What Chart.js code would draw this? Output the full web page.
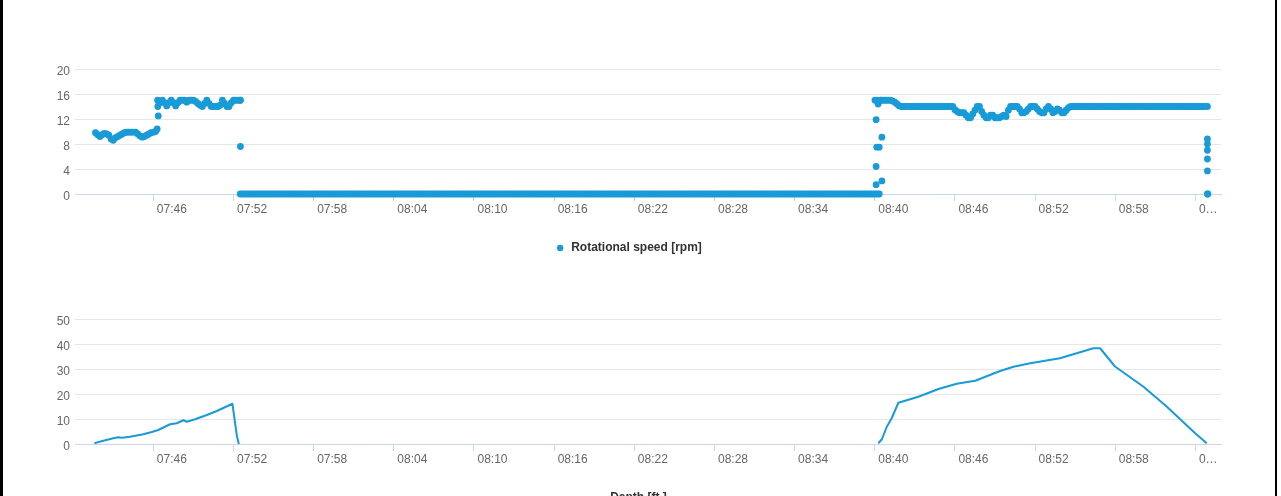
<!DOCTYPE html>
<html>
<head>
<meta charset="utf-8">
<script src="https://cdn.jsdelivr.net/npm/chart.js@4.4.1/dist/chart.umd.min.js"></script>
<style>
html,body{margin:0;padding:0;background:#fff;width:1281px;height:496px;overflow:hidden;position:relative}
.edge{position:absolute;top:0;height:496px;background:#000}
.box{position:absolute;left:3px;width:1272px;height:280px}
</style>
</head>
<body>
<div class="edge" style="left:0;width:3px"></div>
<div class="edge" style="left:1275px;width:2px"></div>
<div class="box" style="top:0"><canvas id="rpmChart"></canvas></div>
<div class="box" style="top:250px"><canvas id="depthChart"></canvas></div>
<script>
// ---------- data ----------
const rpmLabel = 'Rotational speed [rpm]';
const depthLabel = 'Depth [ft.]';

// regularly sampled rotational speed: first sample time and sample step
const rpmStart = '07:41:40';
const rpmStepSeconds = 10;
const rpmValues = [
  // 07:41:40 - 07:46:10
  9.8, 9.5, 9.2, 9.5, 9.7, 9.6, 9.4, 8.8, 8.6, 9.0,
  9.2, 9.4, 9.6, 9.8, 9.9, 9.9, 9.9, 9.9, 9.9, 9.6,
  9.3, 9.1, 9.2, 9.4, 9.6, 9.8, 9.9, 10.0,
  // 07:46:20 - 07:52:30
  14, 14.6, 15, 14.6, 14.1, 14.6, 15, 14.6, 14.1, 14.6,
  15, 15, 15, 14.7, 15, 15, 15, 14.8, 14.5, 14.2,
  14, 14.5, 15, 14.5, 14, 14, 14, 14, 14.2, 15,
  14.5, 14, 14, 14.6, 15, 15, 15, 15,
  // 07:52:40 - 08:40:20
  0,0,0,0,0,0,0,0,0,0, 0,0,0,0,0,0,0,0,0,0,
  0,0,0,0,0,0,0,0,0,0, 0,0,0,0,0,0,0,0,0,0,
  0,0,0,0,0,0,0,0,0,0, 0,0,0,0,0,0,0,0,0,0,
  0,0,0,0,0,0,0,0,0,0, 0,0,0,0,0,0,0,0,0,0,
  0,0,0,0,0,0,0,0,0,0, 0,0,0,0,0,0,0,0,0,0,
  0,0,0,0,0,0,0,0,0,0, 0,0,0,0,0,0,0,0,0,0,
  0,0,0,0,0,0,0,0,0,0, 0,0,0,0,0,0,0,0,0,0,
  0,0,0,0,0,0,0,0,0,0, 0,0,0,0,0,0,0,0,0,0,
  0,0,0,0,0,0,0,0,0,0, 0,0,0,0,0,0,0,0,0,0,
  0,0,0,0,0,0,0,0,0,0, 0,0,0,0,0,0,0,0,0,0,
  0,0,0,0,0,0,0,0,0,0, 0,0,0,0,0,0,0,0,0,0,
  0,0,0,0,0,0,0,0,0,0, 0,0,0,0,0,0,0,0,0,0,
  0,0,0,0,0,0,0,0,0,0, 0,0,0,0,0,0,0,0,0,0,
  0,0,0,0,0,0,0,0,0,0, 0,0,0,0,0,0,0,0,0,0,
  0,0,0,0,0,0,0,
  // 08:40:30 - 08:45:50
  15, 15, 15, 15, 15, 14.9, 14.7, 14.4, 14.1,
  14, 14, 14, 14, 14, 14, 14, 14, 14, 14, 14, 14,
  14, 14, 14, 14, 14, 14, 14, 14, 14, 14, 14, 14,
  // 08:46:00 - 08:54:50
  13.5, 13.2, 13.0, 13.0, 13.0, 12.6, 12.2, 12.2, 12.8, 13.4,
  14.0, 14.0, 13.2, 12.6, 12.2, 12.2, 12.6, 12.6, 12.2, 12.2,
  12.2, 12.4, 12.6, 12.4, 13.4,
  14, 14, 14, 14, 13.6, 13.0, 13.0, 13.2, 13.6, 14,
  14, 14, 13.6, 13.2, 13.0, 13.0, 13.6, 14, 13.6, 13.0,
  13.2, 13.6, 13.4, 13.0, 13.0, 13.4, 13.8, 14, 14,
  // 08:55:00 - 09:04:40
  14, 14, 14, 14, 14, 14, 14, 14, 14, 14,
  14, 14, 14, 14, 14, 14, 14, 14, 14, 14,
  14, 14, 14, 14, 14, 14, 14, 14, 14, 14,
  14, 14, 14, 14, 14, 14, 14, 14, 14, 14,
  14, 14, 14, 14, 14, 14, 14, 14, 14, 14,
  14, 14, 14, 14, 14, 14, 14, 14, 14
];

// irregular rotational speed readings (transitions)
const rpmExtraTimes = [
  '07:46:17', '07:46:22', '07:46:19',
  '07:52:31', '07:52:31', '07:52:30',
  '08:40:01', '08:40:06', '08:40:06', '08:40:06', '08:40:09', '08:40:20',
  '08:40:15', '08:40:12', '08:40:26', '08:40:32', '08:40:32',
  '09:04:54', '09:04:54', '09:04:54', '09:04:54', '09:04:54', '09:04:54', '09:04:54', '09:04:56'
];
const rpmExtraValues = [
  10.4, 12.5, 15,
  15, 7.6, 0,
  15, 11.9, 4.4, 1.5, 7.5, 7.5,
  14.4, 15, 15, 9.1, 2.1,
  14, 8.8, 8.0, 7.0, 5.6, 3.7, 0, 0
];

// depth readings (null = no reading)
const depthTimes = [
  '07:41:35', '07:42:15', '07:43:00', '07:43:23', '07:43:38', '07:44:15', '07:45:15', '07:45:53',
  '07:46:22', '07:47:15', '07:47:45', '07:48:15', '07:48:30', '07:49:07', '07:50:00', '07:50:45',
  '07:51:55', '07:52:15', '07:52:24',
  '08:16:00',
  '08:40:16', '08:40:32', '08:40:54', '08:41:16', '08:41:46', '08:43:16', '08:44:46', '08:46:08',
  '08:47:31', '08:49:23', '08:50:23', '08:51:38', '08:53:52', '08:55:07', '08:56:22', '08:56:52',
  '08:57:59', '09:00:07', '09:01:52', '09:03:59', '09:04:51'
];
const depthValues = [
  0.3, 1.3, 2.3, 2.7, 2.5, 2.9, 3.9, 4.8,
  5.6, 7.9, 8.3, 9.5, 8.9, 9.9, 11.6, 13.2,
  16.1, 3.2, 0,
  null,
  0.3, 1.9, 6.9, 10.3, 16.5, 18.9, 22, 24.1,
  25.3, 29.2, 30.9, 32.3, 34.3, 36.3, 38.3, 38.3,
  31.0, 22.9, 14.9, 4.3, 0.3
];

// axes
const xRange = ['07:40:08', '09:05:55'];
const xTickTimes = ['07:46', '07:52', '07:58', '08:04', '08:10', '08:16', '08:22', '08:28', '08:34', '08:40', '08:46', '08:52', '08:58', '09:04'];
const xTickLabels = ['07:46', '07:52', '07:58', '08:04', '08:10', '08:16', '08:22', '08:28', '08:34', '08:40', '08:46', '08:52', '08:58', '0…'];
const rpmAxis = { max: 20, step: 4 };
const depthAxis = { max: 50, step: 10 };

// ---------- helpers ----------
const SERIES_COLOR = '#189bd7';
function toMin(s) {
  const p = s.split(':').map(Number);
  return p[0] * 60 + p[1] + (p[2] || 0) / 60;
}
const rpmStartMin = toMin(rpmStart);
const rpmPoints = rpmValues.map((v, i) => ({ x: rpmStartMin + i * rpmStepSeconds / 60, y: v }));
const rpmExtraPoints = rpmExtraTimes.map((t, i) => ({ x: toMin(t), y: rpmExtraValues[i] }));
const depthPoints = depthTimes.map((t, i) => ({ x: toMin(t), y: depthValues[i] }));

Chart.defaults.font.family = "'Liberation Sans', Arial, Helvetica, sans-serif";
Chart.defaults.font.size = 12;
Chart.defaults.color = '#666666';

function makeOptions(axis, legendLabels) {
  return {
    responsive: true,
    maintainAspectRatio: false,
    animation: false,
    layout: { padding: { left: 33, right: 54, top: 69, bottom: 16 } },
    plugins: {
      tooltip: { enabled: false },
      legend: {
        position: 'bottom',
        labels: Object.assign({
          usePointStyle: true,
          padding: 11,
          color: '#333333',
          font: { size: 12, weight: 'bold' },
          filter: item => item.datasetIndex === 0
        }, legendLabels)
      }
    },
    scales: {
      x: {
        type: 'linear',
        min: toMin(xRange[0]),
        max: toMin(xRange[1]),
        afterBuildTicks: s => { s.ticks = xTickTimes.map(t => ({ value: toMin(t) })); },
        afterFit: s => { s.height = 37; },
        ticks: {
          autoSkip: false, maxRotation: 0, minRotation: 0,
          align: 'start', labelOffset: 3.5, padding: 1,
          color: '#666666',
          callback: (v, i) => xTickLabels[i]
        },
        grid: { drawOnChartArea: false, drawTicks: true, tickLength: 7, tickColor: '#ccd6eb', tickWidth: 1 },
        border: { display: true, color: '#ccd6eb', width: 1 }
      },
      y: {
        min: 0,
        max: axis.max,
        afterFit: s => { s.width = 39; },
        ticks: { stepSize: axis.step, padding: 5, labelOffset: 2.5, color: '#666666' },
        grid: { color: '#e6e6e6', drawTicks: false, lineWidth: 1 },
        border: { display: false }
      }
    }
  };
}

new Chart(document.getElementById('rpmChart'), {
  type: 'scatter',
  data: {
    datasets: [
      {
        label: rpmLabel, data: rpmPoints,
        backgroundColor: SERIES_COLOR, borderColor: SERIES_COLOR,
        pointRadius: 3.4, pointBorderWidth: 0, borderWidth: 0, clip: false
      },
      {
        label: rpmLabel + ' (extra)', data: rpmExtraPoints,
        backgroundColor: SERIES_COLOR, borderColor: SERIES_COLOR,
        pointRadius: 3.4, pointBorderWidth: 0, borderWidth: 0, clip: false
      }
    ]
  },
  options: makeOptions(rpmAxis, { boxWidth: 10, boxHeight: 4.5 })
});

new Chart(document.getElementById('depthChart'), {
  type: 'line',
  data: {
    datasets: [{
      label: depthLabel, data: depthPoints,
      borderColor: SERIES_COLOR, backgroundColor: SERIES_COLOR,
      borderWidth: 2, pointRadius: 0, pointStyle: 'line', pointBorderWidth: 2,
      tension: 0, spanGaps: false, clip: false, borderJoinStyle: 'round'
    }]
  },
  options: makeOptions(depthAxis, { pointStyleWidth: 14, boxHeight: 12 })
});
</script>
</body>
</html>
